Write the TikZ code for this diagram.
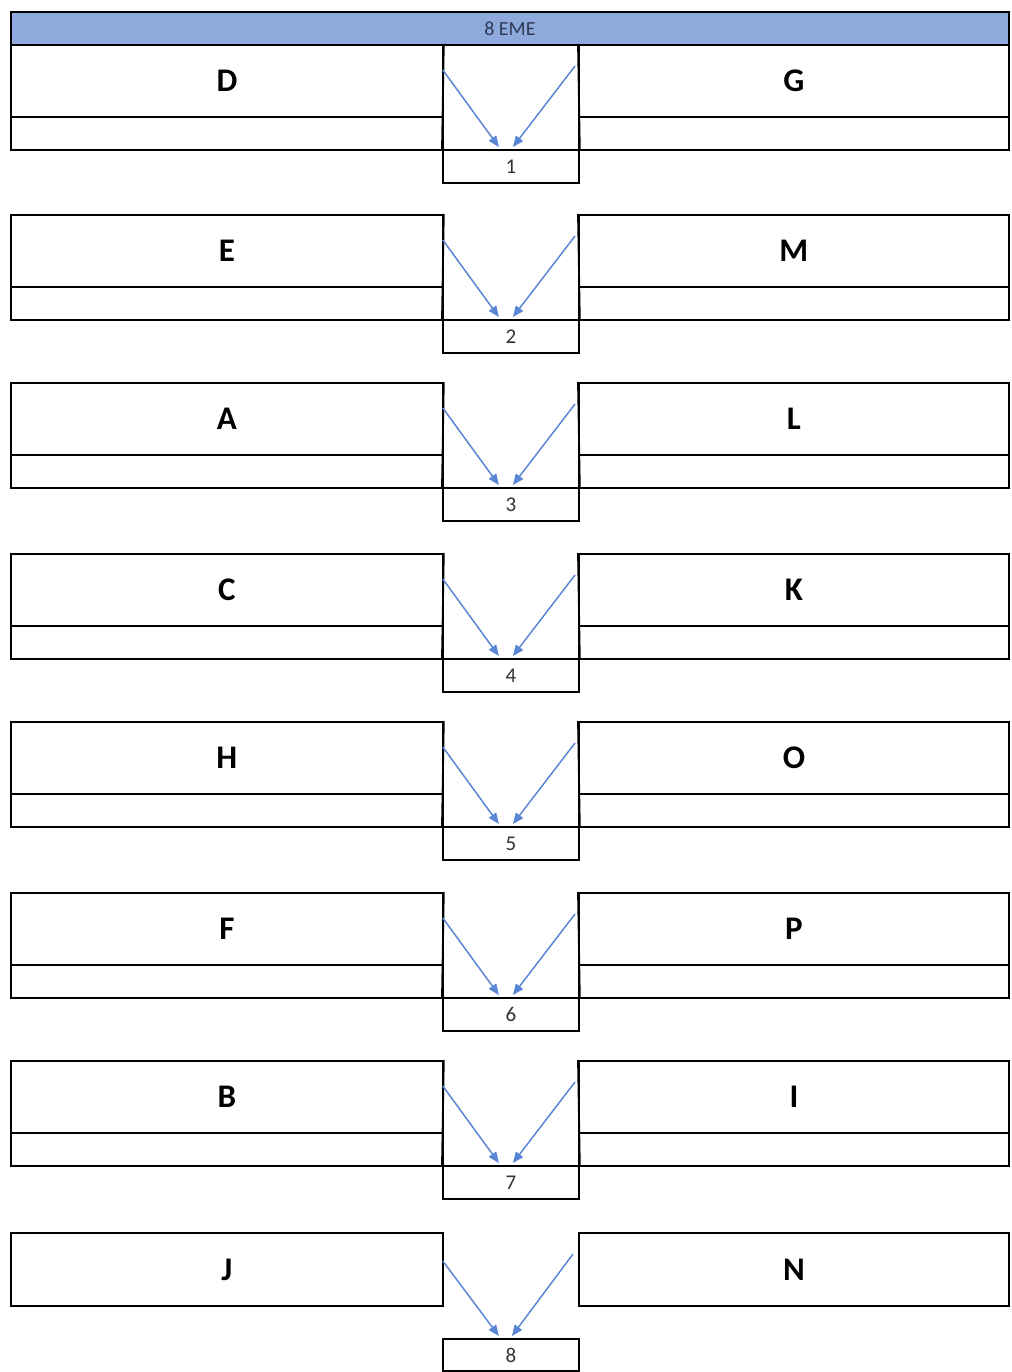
\documentclass[tikz,border=0pt]{standalone}
\usepackage{fontspec}
\setmainfont{Carlito}
\usetikzlibrary{calc,arrows.meta}
\definecolor{hdrblue}{HTML}{8EA9DB}
\definecolor{arrblue}{HTML}{5B86D6}
\definecolor{hdrtext}{HTML}{2F3A56}
\begin{document}
\begin{tikzpicture}[x=1pt,y=-1pt,
  line width=1.8pt,
  cellbox/.style={draw=black,line width=1.8pt,rectangle,inner sep=0pt,anchor=north west},
  lettertext/.style={font=\bfseries\fontsize{33}{38}\selectfont},
  numtext/.style={font=\fontsize{21}{24}\selectfont,text=black!80},
  feed/.style={draw=arrblue,line width=1.5pt,-{Triangle[length=11pt,width=9pt]}}]
\useasboundingbox (0,0) rectangle (1011,1372);
% header
\node[cellbox,fill=hdrblue,minimum width=998pt,minimum height=33pt,
  font=\fontsize{20}{24}\selectfont,text=hdrtext] (hdr) at (10,11) {8 EME};
% rows 1-7
\foreach \i/\t/\a/\b in {1/44/D/G,2/214/E/M,3/382/A/L,4/553/C/K,5/721/H/O,6/892/F/P,7/1060/B/I}{
  \node[cellbox,minimum width=432pt,minimum height=72pt,lettertext] (L\i) at (10,\t) {\a};
  \node[cellbox,minimum width=432pt,minimum height=33pt] (Lb\i) at (10,\t+72) {};
  \node[cellbox,minimum width=430pt,minimum height=72pt,lettertext] (R\i) at (578,\t) {\b};
  \node[cellbox,minimum width=430pt,minimum height=33pt] (Rb\i) at (578,\t+72) {};
  \node[cellbox,minimum width=136pt,minimum height=33pt,numtext] (N\i) at (442,\t+105) {\i};
  \draw[line width=1.8pt] (L\i.north east) -- (N\i.north west);
  \draw[line width=1.8pt] (R\i.north west) -- (N\i.north east);
  \draw[feed] ($(L\i.north east)+(-1,26)$) -- ($(N\i.north)+(-12,-2)$);
  \draw[feed] ($(R\i.north west)+(-3,22)$) -- ($(N\i.north)+(2,-2)$);
}
% row 8
\node[cellbox,minimum width=432pt,minimum height=73pt,lettertext] (L8) at (10,1232) {J};
\node[cellbox,minimum width=430pt,minimum height=73pt,lettertext] (R8) at (578,1232) {N};
\node[cellbox,minimum width=136pt,minimum height=32pt,numtext] (N8) at (442,1338) {8};
\draw[feed] ($(L8.north east)+(-1,29)$) -- ($(N8.north)+(-12,-2)$);
\draw[feed] ($(R8.north west)+(-5,22)$) -- ($(N8.north)+(1,-2)$);
\end{tikzpicture}
\end{document}
